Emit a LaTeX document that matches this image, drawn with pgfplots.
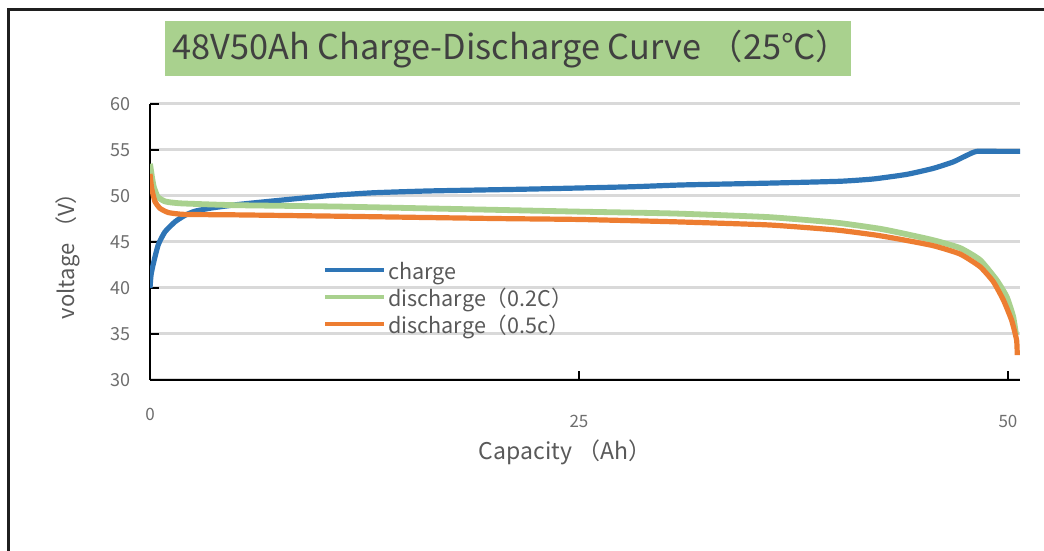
\documentclass[border=0pt]{standalone}
\usepackage{fontspec}
\setmainfont{Noto Sans CJK SC}
\usepackage{pgfplots}
\pgfplotsset{compat=1.18}
\definecolor{cblue}{HTML}{2E75B6}
\definecolor{cgreen}{HTML}{A9D18E}
\definecolor{corange}{HTML}{ED7D31}
\definecolor{boxgreen}{HTML}{A9D18E}
\definecolor{titlegray}{HTML}{404040}
\definecolor{labgray}{HTML}{595959}
\definecolor{tickgray}{HTML}{6E6E6E}
\definecolor{gridgray}{HTML}{D9D9D9}
\begin{document}
\begin{tikzpicture}
\path[use as bounding box] (0,0) rectangle (522pt,275.5pt);
\fill[white] (0,0) rectangle (522pt,275.5pt);
\draw[line width=1.5pt, color=black!88] (4pt,0pt) -- (4pt,270.5pt) -- (522pt,270.5pt);
\fill[boxgreen] (82.5pt,237.5pt) rectangle (425.5pt,265pt);
\node[anchor=west, inner sep=0pt, text=titlegray, font=\fontsize{17.15}{17.15}\selectfont] at (86pt,251pt) {48V50Ah Charge-Discharge Curve （25℃）};
\begin{axis}[
  at={(75pt,85.5pt)}, anchor=south west,
  scale only axis, width=435pt, height=138pt,
  xmin=0, xmax=50.7, ymin=30, ymax=60,
  axis lines=left, axis line style={-, line width=1pt, black},
  tick align=inside, major tick length=4.5pt,
  tick style={black, line width=1pt},
  ytick={30,35,...,60},
  xtick={25,50},
  extra x ticks={0},
  extra x tick style={xticklabel style={yshift=3.5pt}},
  ymajorgrids, grid style={gridgray, line width=1.5pt},
  /pgf/number format/assume math mode=true,
  yticklabel style={font=\fontsize{9}{9}\selectfont, text=tickgray, xshift=-6pt},
  xticklabel style={font=\fontsize{8.5}{8.5}\selectfont, text=tickgray, yshift=-14pt},
  xlabel={Capacity （Ah）}, ylabel={voltage （V）},
  xlabel style={at={(axis description cs:0.477,-0.261)}, anchor=center, font=\fontsize{11.5}{11.5}\selectfont, text=labgray},
  ylabel style={at={(axis description cs:-0.0943,0.469)}, anchor=center, font=\fontsize{11}{11}\selectfont, text=labgray},
  legend style={draw=none, fill=none, at={(axis cs:10.08,42.77)}, anchor=north west, inner sep=0pt, row sep=0pt,
    nodes={inner sep=0pt, text height=8.5pt, text depth=5pt, font=\fontsize{10.8}{10.8}\selectfont, text=labgray}},
  legend cell align=left,
  legend image code/.code={\draw[#1, line width=2pt] (0pt,3pt) -- (29.5pt,3pt); \path (30pt,3pt);},
]
\addplot[cblue, line width=2.6pt, line join=round, smooth, tension=0.3] coordinates {
(0,40.0) (0.06,41.4) (0.19,42.6) (0.48,44.7) (0.87,46.1) (1.46,47.2) (2.04,47.9) (2.62,48.35) (3.6,48.7) (5.25,49.1) (8.2,49.65) (10.5,50.05) (13,50.35) (16.3,50.55) (22.1,50.75) (28,51.0) (31,51.2) (36.1,51.4) (40.2,51.6) (42.15,51.85) (44.1,52.35) (45.64,53.0) (46.8,53.7) (47.58,54.4) (48.17,54.85) (49.5,54.85) (50.7,54.85)
};
\addlegendentry{charge}
\addplot[cgreen, line width=2.9pt, line join=round, smooth, tension=0.3] coordinates {
(0,53.5) (0.12,52.0) (0.22,51.0) (0.45,49.9) (0.9,49.4) (1.8,49.2) (5,49.0) (11,48.85) (20,48.5) (25,48.3) (30.5,48.1) (36.1,47.7) (40,47.1) (42.5,46.45) (43.71,46.0) (45.64,45.2) (47.2,44.35) (48.37,43.04) (49.33,40.87) (49.92,39.05) (50.3,36.9) (50.47,34.9)
};
\addlegendentry{discharge（0.2C）}
\addplot[corange, line width=2.6pt, line join=round, smooth, tension=0.3] coordinates {
(0,52.4) (0.1,50.8) (0.29,49.4) (0.58,48.66) (1.07,48.2) (2.0,48.0) (5,47.95) (11.1,47.8) (20.2,47.55) (25,47.45) (30.5,47.2) (36.1,46.85) (40,46.3) (42.3,45.75) (43.71,45.3) (45.64,44.6) (47.2,43.7) (48.37,42.32) (49.14,40.7) (49.73,38.7) (50.21,36.5) (50.5,34.35) (50.54,32.7)
};
\addlegendentry{discharge（0.5c）}
\end{axis}
\end{tikzpicture}
\end{document}
